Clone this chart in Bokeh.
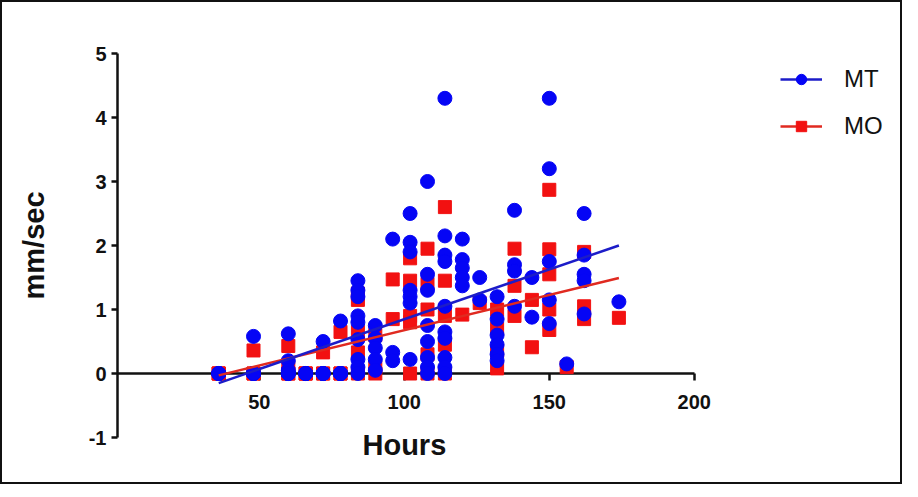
import numpy as np
from bokeh.plotting import figure
from bokeh.models import (Range1d, FixedTicker, Legend, LegendItem, Title, ColumnDataSource)
from bokeh.embed import file_html
from bokeh.resources import INLINE

# ---- data (zeros at early hours overlap each other) ----
mt_hours = [36, 36, 36, 36,
            48, 48, 48, 48, 48,
            60, 60, 60, 60, 60, 60, 60,
            66, 66, 66, 66,
            72, 72, 72, 72, 72,
            78, 78, 78, 78, 78,
            84, 84, 84, 84, 84, 84, 84, 84, 84,
            90, 90, 90, 90, 90,
            96, 96, 96,
            102, 102, 102, 102, 102, 102, 102,
            108, 108, 108, 108, 108, 108, 108, 108,
            114, 114, 114, 114, 114, 114, 114, 114, 114, 114,
            120, 120, 120, 120, 120,
            126, 126,
            132, 132, 132, 132, 132, 132,
            138, 138, 138, 138,
            144, 144,
            150, 150, 150, 150, 150,
            156,
            162, 162, 162, 162, 162,
            174]
mt_values = [0, 0, 0, 0,
             0.58, 0, 0, 0, 0,
             0.62, 0.2, 0.05, 0, 0, 0, 0,
             0, 0, 0, 0,
             0.5, 0, 0, 0, 0,
             0.82, 0, 0, 0, 0,
             1.45, 1.3, 1.2, 0.9, 0.8, 0.53, 0.22, 0.1, 0,
             0.75, 0.55, 0.4, 0.22, 0.05,
             2.1, 0.33, 0.2,
             2.5, 2.05, 1.9, 1.3, 1.2, 1.1, 0.22,
             3.0, 1.55, 1.3, 0.75, 0.5, 0.25, 0.1, 0,
             4.3, 2.15, 1.85, 1.75, 1.05, 0.65, 0.55, 0.25, 0.1, 0,
             2.1, 1.78, 1.65, 1.5, 1.37,
             1.5, 1.15,
             1.2, 0.85, 0.6, 0.45, 0.3, 0.2,
             2.55, 1.7, 1.6, 1.05,
             1.5, 0.88,
             4.3, 3.2, 1.75, 1.15, 0.78,
             0.15,
             2.5, 1.85, 1.55, 1.45, 0.93,
             1.12]

mo_hours = [36, 36, 36,
            48, 48, 48,
            60, 60, 60, 60,
            66, 66, 66,
            72, 72, 72,
            78, 78, 78,
            84, 84, 84, 84, 84,
            90, 90, 90,
            96, 96,
            102, 102, 102, 102, 102,
            108, 108, 108, 108, 108,
            114, 114, 114, 114, 114,
            120,
            126,
            132, 132, 132, 132,
            138, 138, 138,
            144, 144,
            150, 150, 150, 150, 150,
            156,
            162, 162, 162,
            174]
mo_values = [0, 0, 0,
             0.36, 0, 0,
             0.43, 0.1, 0, 0,
             0, 0, 0,
             0.33, 0, 0,
             0.65, 0, 0,
             1.25, 1.15, 0.65, 0.33, 0,
             0.6, 0.1, 0,
             1.47, 0.85,
             1.8, 1.45, 0.9, 0.8, 0,
             1.95, 1.4, 1.0, 0.3, 0,
             2.6, 1.45, 0.9, 0.45, 0,
             0.92,
             1.1,
             1.0, 0.7, 0.35, 0.08,
             1.95, 1.37, 0.9,
             1.15, 0.41,
             2.87, 1.94, 1.55, 1.0, 0.68,
             0.1,
             1.9, 1.05, 0.85,
             0.87]

series_names = ["MT", "MO"]
x_ticks = [50, 100, 150, 200]
y_ticks = [-1, 0, 1, 2, 3, 4, 5]
x_title = "Hours"
y_title = "mm/sec"

BLUE = "#0505f5"
RED = "#f21111"
BLUE_LINE = "#1c1cc8"
RED_LINE = "#e02a20"
INK = "#111111"
FONT = "Liberation Sans"

p = figure(width=902, height=484, output_backend="svg", toolbar_location=None,
           x_range=Range1d(1.1, 268), y_range=Range1d(-1, 5),
           min_border_left=115, min_border_right=13, min_border_top=51, min_border_bottom=49)
p.styles = {"border": "2px solid #111"}
p.outline_line_color = None
p.xgrid.visible = False
p.ygrid.visible = False
p.background_fill_color = "white"
p.border_fill_color = "white"

# x axis crossing at y = 0
xa = p.xaxis[0]
xa.fixed_location = 0
xa.bounds = (1.1, 200)
xa.ticker = FixedTicker(ticks=x_ticks)
xa.axis_line_width = 2.5
xa.axis_line_color = INK
xa.major_tick_line_width = 2.5
xa.major_tick_line_color = INK
xa.major_tick_out = 7
xa.major_tick_in = 0
xa.minor_tick_line_color = None
xa.major_label_standoff = 14
xa.major_label_text_font = FONT
xa.major_label_text_font_style = "bold"
xa.major_label_text_font_size = "20px"
xa.major_label_text_color = INK
xa.level = "underlay"

ya = p.yaxis[0]
ya.ticker = FixedTicker(ticks=y_ticks)
ya.major_label_overrides = {-1: "-1"}
ya.axis_line_width = 2.5
ya.axis_line_color = INK
ya.major_tick_line_width = 2.5
ya.major_tick_line_color = INK
ya.major_tick_out = 6
ya.major_tick_in = 0
ya.minor_tick_line_color = None
ya.major_label_standoff = 5
ya.major_label_text_font = FONT
ya.major_label_text_font_style = "bold"
ya.major_label_text_font_size = "20px"
ya.major_label_text_color = INK
ya.axis_label = y_title
ya.axis_label_text_font = FONT
ya.axis_label_text_font_style = "bold"
ya.axis_label_text_font_size = "29px"
ya.axis_label_text_color = INK
ya.axis_label_standoff = 36

p.add_layout(Title(text=x_title, align="left", offset=245, vertical_align="top", standoff=-18,
                   text_font=FONT, text_font_style="bold", text_font_size="29px",
                   text_color=INK), "below")

# points
mo_src = ColumnDataSource(dict(x=mo_hours, y=mo_values))
mt_src = ColumnDataSource(dict(x=mt_hours, y=mt_values))
mo_pts = p.scatter("x", "y", source=mo_src, marker="square", size=13, fill_color=RED, line_color=RED)
mt_pts = p.scatter("x", "y", source=mt_src, marker="circle", size=14, fill_color=BLUE, line_color=BLUE)

# linear regression lines
def fit_line(xs, ys):
    k, b = np.polyfit(np.array(xs, float), np.array(ys, float), 1)
    xx = np.array([min(xs), max(xs)], float)
    return xx, k * xx + b

mo_x, mo_y = fit_line(mo_hours, mo_values)
mt_x, mt_y = fit_line(mt_hours, mt_values)
mo_ln = p.line(mo_x, mo_y, line_color=RED_LINE, line_width=2.5)
mt_ln = p.line(mt_x, mt_y, line_color=BLUE_LINE, line_width=2.5)

legend = Legend(items=[LegendItem(label=series_names[0], renderers=[mt_ln, mt_pts]),
                       LegendItem(label=series_names[1], renderers=[mo_ln, mo_pts])],
                location=(663, 297), glyph_width=42, glyph_height=26, label_height=26,
                label_standoff=22, spacing=19, padding=0, margin=0,
                border_line_color=None, background_fill_alpha=0,
                label_text_font=FONT, label_text_font_size="24px", label_text_color=INK)
p.add_layout(legend, "center")

open("out.html", "w").write(file_html(p, INLINE))
